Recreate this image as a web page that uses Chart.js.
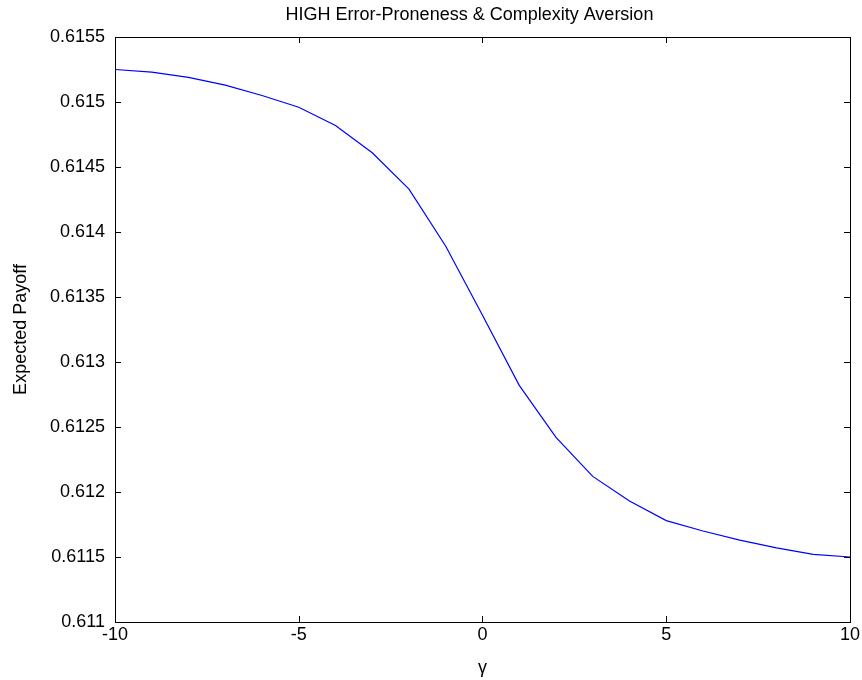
<!DOCTYPE html>
<html>
<head>
<meta charset="utf-8">
<script src="https://cdn.jsdelivr.net/npm/chart.js@4"></script>
<style>
  html, body { margin: 0; padding: 0; background: #fff; }
  #wrap { width: 862px; height: 680px; }
</style>
</head>
<body>
<div id="wrap"><canvas id="chart"></canvas></div>
<script>
const gammaValues = [-10, -9, -8, -7, -6, -5, -4, -3, -2, -1, 0, 1, 2, 3, 4, 5, 6, 7, 8, 9, 10];
const payoffValues = [0.61525, 0.61523, 0.61519, 0.61513, 0.61505, 0.61496, 0.61482, 0.61461, 0.61433,
    0.61389, 0.61336, 0.61282, 0.61242, 0.61212, 0.61193, 0.61178, 0.61170, 0.61163, 0.61157, 0.61152, 0.61150];
const xTicks = [-10, -5, 0, 5, 10];
const yTicks = [0.611, 0.6115, 0.612, 0.6125, 0.613, 0.6135, 0.614, 0.6145, 0.615, 0.6155];

const fontFamily = '"Liberation Sans", Arial, Helvetica, sans-serif';

// box round the plot area with inward ticks on all four sides
const boxPlugin = {
    id: 'box',
    afterLayout(chart) {
        // centre the title a bit to the right, as in the original figure
        if (chart.titleBlock) {
            chart.titleBlock.left = 86;
        }
    },
    afterDraw(chart) {
        const ctx = chart.ctx;
        const a = chart.chartArea;
        const xs = chart.scales.x;
        const ys = chart.scales.y;
        const len = 6;
        ctx.save();
        ctx.strokeStyle = '#000';
        ctx.lineWidth = 1;
        ctx.beginPath();
        xTicks.forEach((v) => {
            const px = Math.round(xs.getPixelForValue(v)) + 0.5;
            ctx.moveTo(px, a.bottom);
            ctx.lineTo(px, a.bottom - len);
            ctx.moveTo(px, a.top);
            ctx.lineTo(px, a.top + len);
        });
        yTicks.forEach((v) => {
            const py = Math.round(ys.getPixelForValue(v)) + 0.5;
            ctx.moveTo(a.left, py);
            ctx.lineTo(a.left + len, py);
            ctx.moveTo(a.right, py);
            ctx.lineTo(a.right - len, py);
        });
        ctx.stroke();
        ctx.strokeRect(Math.round(a.left) + 0.5, Math.round(a.top) + 0.5,
            Math.round(a.right - a.left), Math.round(a.bottom - a.top));
        ctx.restore();
    }
};

const canvas = document.getElementById('chart');

const chart = new Chart(canvas, {
    type: 'line',
    data: {
        datasets: [{
            data: gammaValues.map((g, i) => ({ x: g, y: payoffValues[i] })),
            borderColor: '#0000ff',
            borderWidth: 1.2,
            pointRadius: 0,
            tension: 0,
            fill: false
        }]
    },
    options: {
        responsive: true,
        maintainAspectRatio: false,
        animation: false,
        layout: { padding: { left: 0, right: 9, top: 0, bottom: 0 } },
        plugins: {
            legend: { display: false },
            tooltip: { enabled: false },
            title: {
                display: true,
                text: 'HIGH Error-Proneness & Complexity Aversion',
                color: '#000',
                font: { family: fontFamily, size: 18, weight: 'normal' },
                padding: { top: 4, bottom: 11.4 }
            }
        },
        scales: {
            x: {
                type: 'linear',
                min: -10,
                max: 10,
                afterBuildTicks: (scale) => { scale.ticks = xTicks.map((v) => ({ value: v })); },
                afterFit: (scale) => { scale.height = 58; },
                ticks: {
                    color: '#000',
                    padding: 2,
                    maxRotation: 0,
                    font: { family: fontFamily, size: 18 }
                },
                grid: { display: false, drawTicks: false },
                border: { display: true, color: '#000', width: 1 },
                title: {
                    display: true,
                    text: 'γ',
                    color: '#000',
                    font: { family: fontFamily, size: 18 },
                    padding: { top: 0, bottom: 1 }
                }
            },
            y: {
                type: 'linear',
                min: 0.611,
                max: 0.6155,
                afterBuildTicks: (scale) => { scale.ticks = yTicks.map((v) => ({ value: v })); },
                afterFit: (scale) => { scale.width = 115; },
                ticks: {
                    color: '#000',
                    padding: 10,
                    font: { family: fontFamily, size: 18 },
                    callback: (v) => String(+Number(v).toFixed(4))
                },
                grid: { display: false, drawTicks: false },
                border: { display: true, color: '#000', width: 1 },
                title: {
                    display: true,
                    text: 'Expected Payoff',
                    color: '#000',
                    font: { family: fontFamily, size: 18 },
                    padding: { top: 10, bottom: 0 }
                }
            }
        }
    },
    plugins: [boxPlugin]
});
</script>
</body>
</html>
